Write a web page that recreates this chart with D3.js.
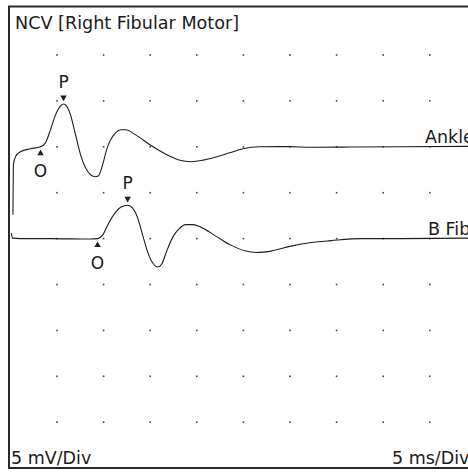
<!DOCTYPE html>
<html>
<head>
<meta charset="utf-8">
<script src="https://cdn.jsdelivr.net/npm/d3@7"></script>
<style>
html,body{margin:0;padding:0;background:#fff;overflow:hidden;}
svg{display:block;}
text{font-family:"DejaVu Sans",Verdana,sans-serif;fill:#1a1a1a;}
</style>
</head>
<body>
<svg id="chart" width="468" height="474"></svg>
<script>
// ---- data (time in ms, amplitude in mV relative to each trace's baseline) ----
const traceNames = ["Ankle", "B Fib"];
const traceBaselines = [10, 0]; // mV offset of each trace baseline on the screen
const ankleTime = [0.27,0.32,0.54,1.08,2.15,3.23,3.76,4.30,4.84,5.38,5.70,6.02,6.45,6.99,7.53,8.06,8.60,9.14,9.46,9.89,10.32,10.75,11.29,11.83,12.37,13.44,14.98,16.59,18.20,19.27,20.34,22.16,23.55,24.94,26.77,29.99,32.14,36.43,41.80,49.30];
const ankleAmp  = [-7.4,-1.96,-1.09,-0.54,-0.22,0,0.43,1.85,3.48,4.46,4.67,4.46,3.48,1.30,-0.87,-2.28,-3.04,-3.26,-3.15,-1.96,-0.33,0.76,1.52,1.85,1.85,1.30,0.22,-0.76,-1.47,-1.63,-1.52,-1.09,-0.65,-0.22,0,0.02,-0.05,-0.03,0,0.05];
const bfibTime = [0.11,0.22,1.08,4.30,8.60,9.35,9.89,10.54,11.29,11.83,12.58,13.12,13.66,14.19,14.73,15.27,15.81,16.24,16.77,17.42,18.06,18.82,19.57,20.43,22.04,23.66,25.27,26.34,27.96,30.11,32.26,34.41,37.63,41.94,49.46];
const bfibAmp  = [0.60,0.05,0,0,-0.05,0,0.38,1.68,2.88,3.42,3.64,3.32,2.23,0.38,-1.47,-2.66,-3.10,-2.77,-1.36,0.16,1.03,1.52,1.52,1.25,0.27,-0.71,-1.36,-1.52,-1.36,-0.82,-0.43,-0.22,0,0,0.05];
// markers: onset (O) and peak (P) per trace
const markerLabels = ["O", "P"];
const ankleMarkerTime = [3.23, 5.70];
const ankleMarkerAmp  = [0, 4.67];
const bfibMarkerTime  = [9.35, 12.58];
const bfibMarkerAmp   = [0, 3.64];
const title = "NCV [Right Fibular Motor]";
const ampScaleLabel = "5 mV/Div";
const timeScaleLabel = "5 ms/Div";
const msPerDiv = 5, mVPerDiv = 5, divisions = 10;

// ---- layout ----
const svg = d3.select("#chart");
const x0 = 10.4, dx = 46.6, y0 = 9.1, dy = 45.9;
const x = d3.scaleLinear().domain([0, msPerDiv * divisions]).range([x0, x0 + dx * divisions]);
const y = d3.scaleLinear().domain([mVPerDiv * divisions / 2, -mVPerDiv * divisions / 2]).range([y0, y0 + dy * divisions]);

// frame
svg.append("path")
  .attr("d", `M470,6.5 H9 V468 H470`)
  .attr("fill", "none").attr("stroke", "#2a2a2a").attr("stroke-width", 2);

// grid dots
const gx = d3.range(1, divisions).map(i => i * msPerDiv);
const gy = d3.range(1, divisions).map(i => mVPerDiv * divisions / 2 - i * mVPerDiv);
const dots = [];
gx.forEach(t => gy.forEach(v => dots.push([t, v])));
svg.append("g").selectAll("rect").data(dots).join("rect")
  .attr("x", d => x(d[0]) - 0.8).attr("y", d => y(d[1]) - 0.8)
  .attr("width", 1.6).attr("height", 1.6).attr("fill", "#444");

// traces
const traces = [
  { name: traceNames[0], base: traceBaselines[0], t: ankleTime, a: ankleAmp, mt: ankleMarkerTime, ma: ankleMarkerAmp },
  { name: traceNames[1], base: traceBaselines[1], t: bfibTime, a: bfibAmp, mt: bfibMarkerTime, ma: bfibMarkerAmp }
];
const line = d3.line().x(d => x(d[0])).y(d => y(d[1])).curve(d3.curveMonotoneX);

traces.forEach((tr, k) => {
  const pts = tr.t.map((t, i) => [t, tr.a[i] + tr.base]);
  svg.append("path").attr("d", line(pts))
    .attr("fill", "none").attr("stroke", "#1e1e1e").attr("stroke-width", 1.1);

  // trace label
  svg.append("text")
    .attr("x", k === 0 ? 425 : 428)
    .attr("y", y(tr.base) - 4)
    .attr("font-size", 17.5)
    .text(tr.name);

  // markers
  tr.mt.forEach((t, i) => {
    const mx = x(t), my = y(tr.ma[i] + tr.base);
    const isPeak = markerLabels[i] === "P";
    const tri = d3.symbol(d3.symbolTriangle, 18)();
    svg.append("path").attr("d", tri)
      .attr("transform", isPeak ? `translate(${mx},${my - 6.5}) rotate(180)` : `translate(${mx},${my + 6.5})`)
      .attr("fill", "#1e1e1e");
    svg.append("text")
      .attr("x", mx).attr("y", isPeak ? my - 16 : my + 30)
      .attr("text-anchor", "middle").attr("font-size", 17)
      .text(markerLabels[i]);
  });
});

// title and scale labels
svg.append("text").attr("x", 15).attr("y", 29).attr("font-size", 17.6).text(title);
svg.append("text").attr("x", 11).attr("y", 464).attr("font-size", 17.5).text(ampScaleLabel);
svg.append("text").attr("x", 392).attr("y", 464).attr("font-size", 17.5).text(timeScaleLabel);
</script>
</body>
</html>
